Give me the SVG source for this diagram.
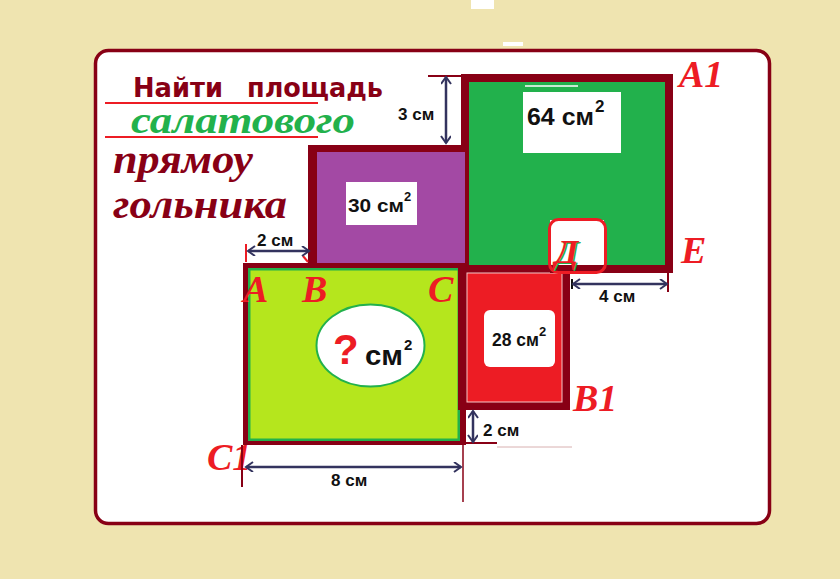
<svg xmlns="http://www.w3.org/2000/svg" width="840" height="579" viewBox="0 0 840 579">
<defs>
<style>
.dr{fill:#880015}
.lbl{font-family:"Liberation Serif","DejaVu Serif",serif;font-style:italic;font-weight:bold;fill:#ED1C24;font-size:38px}
.num{font-family:"Liberation Sans","DejaVu Sans",sans-serif;font-weight:bold;fill:#111}
.dim{stroke:#33335E;stroke-width:2.5;fill:none}
.tick{stroke:#880015;stroke-width:2;fill:none}
.box{fill:#fff}
</style>
<marker id="ah" markerUnits="userSpaceOnUse" markerWidth="12" markerHeight="12" refX="8" refY="5" orient="auto-start-reverse">
<path d="M1,0 L8,5 L1,10" fill="none" stroke="#33335E" stroke-width="2"/>
</marker>
</defs>
<rect width="840" height="579" fill="#EFE4B0"/>
<rect x="471" y="0" width="23" height="9" fill="#fff"/>
<rect x="503" y="42" width="20" height="4" fill="#fff"/>
<rect x="95.5" y="50.5" width="674" height="473" rx="13" fill="#fff" stroke="#880015" stroke-width="3.5"/>

<g id="title">
<text x="133" y="97" font-family="DejaVu Sans,sans-serif" font-weight="bold" font-size="26" fill="#880015" textLength="90" lengthAdjust="spacingAndGlyphs">Найти</text>
<text x="247" y="97" font-family="DejaVu Sans,sans-serif" font-weight="bold" font-size="26" fill="#880015" textLength="136" lengthAdjust="spacingAndGlyphs">площадь</text>
<line x1="105" y1="103" x2="318" y2="103" stroke="#ED1C24" stroke-width="2"/>
<text x="131" y="133" font-family="Liberation Serif,serif" font-style="italic" font-weight="bold" font-size="37" fill="#22B14C" textLength="224" lengthAdjust="spacingAndGlyphs">салатового</text>
<line x1="105" y1="137" x2="318" y2="137" stroke="#ED1C24" stroke-width="2"/>
<text x="113" y="173" font-family="Liberation Serif,serif" font-style="italic" font-weight="bold" font-size="40" fill="#880015" textLength="140" lengthAdjust="spacingAndGlyphs">прямоу</text>
<text x="113" y="218" font-family="Liberation Serif,serif" font-style="italic" font-weight="bold" font-size="40" fill="#880015" textLength="174" lengthAdjust="spacingAndGlyphs">гольника</text>
</g>

<g id="green-square">
<rect class="dr" x="461" y="74" width="212" height="199"/>
<rect x="469" y="82" width="196" height="183" fill="#22B14C"/>
<line x1="525" y1="86" x2="578" y2="86" stroke="#fff" stroke-width="1.5"/>
<rect class="box" x="523" y="92" width="98" height="61"/>
<text class="num" x="527" y="125" font-size="24" textLength="67" lengthAdjust="spacingAndGlyphs">64 см</text>
<text class="num" x="595" y="112" font-size="17">2</text>
</g>

<g id="purple-rect">
<rect class="dr" x="308" y="145" width="158" height="120"/>
<rect x="317" y="152" width="148" height="113" fill="#A349A4"/>
<rect class="box" x="346" y="182" width="71" height="43"/>
<text class="num" x="348" y="212" font-size="18" textLength="56" lengthAdjust="spacingAndGlyphs">30 см</text>
<text class="num" x="404" y="201" font-size="13">2</text>
</g>

<g id="lime-square">
<rect class="dr" x="243" y="263" width="223" height="182"/>
<rect x="248" y="268" width="212" height="173" fill="#22B14C"/>
<rect x="250.5" y="270.5" width="207" height="168" fill="#B5E61D"/>
<ellipse cx="370.5" cy="345.5" rx="54" ry="41" fill="#fff" stroke="#22B14C" stroke-width="2"/>
<text x="333" y="364" font-family="Liberation Sans,sans-serif" font-weight="bold" font-size="42" fill="#ED1C24">?</text>
<text class="num" x="365" y="365" font-size="28" textLength="38" lengthAdjust="spacingAndGlyphs">см</text>
<text class="num" x="404" y="350" font-size="15">2</text>
</g>

<g id="red-rect">
<rect class="dr" x="458" y="265" width="112" height="145"/>
<rect x="467" y="273" width="95" height="129" fill="#ED1C24" stroke="#F4C8C8" stroke-width="1"/>
<rect class="box" x="484" y="310" width="71" height="57" rx="6"/>
<text class="num" x="492" y="346" font-size="18" textLength="47" lengthAdjust="spacingAndGlyphs">28 см</text>
<text class="num" x="539" y="336" font-size="13">2</text>
</g>

<g id="d-mark">
<rect class="box" x="550" y="220" width="54" height="45"/>
<rect class="dr" x="550" y="265" width="54" height="8"/>
<rect x="549.5" y="219.5" width="56" height="53" rx="9" fill="none" stroke="#ED1C24" stroke-width="3"/>
<text x="556.5" y="264" font-family="Liberation Serif,serif" font-style="italic" font-weight="bold" font-size="34" fill="#22B14C">Д</text>
<text x="555" y="263" font-family="Liberation Serif,serif" font-style="italic" font-weight="bold" font-size="34" fill="#ED1C24">Д</text>
</g>

<g id="labels">
<text class="lbl" x="679" y="87">A1</text>
<text class="lbl" x="681" y="263">E</text>
<text class="lbl" x="243" y="302">A</text>
<text class="lbl" x="302" y="302">B</text>
<text class="lbl" x="428" y="302">C</text>
<text class="lbl" x="573" y="411">B1</text>
<text class="lbl" x="207" y="470">C1</text>
</g>

<g id="connectors">
<line class="tick" x1="428" y1="76" x2="461" y2="76"/>
<line class="dim" x1="446" y1="77" x2="446" y2="143" marker-start="url(#ah)" marker-end="url(#ah)"/>
<text class="num" x="398" y="120" font-size="17">3 см</text>

<line x1="246" y1="244" x2="246" y2="262" stroke="#ED1C24" stroke-width="2"/>
<line x1="303" y1="256" x2="308" y2="262" stroke="#ED1C24" stroke-width="2"/>
<line class="dim" x1="248" y1="251" x2="309" y2="251" marker-start="url(#ah)" marker-end="url(#ah)"/>
<text class="num" x="257" y="246" font-size="17">2 см</text>

<line x1="572" y1="279" x2="572" y2="289" stroke="#111" stroke-width="2"/>
<line class="tick" x1="668" y1="270" x2="668" y2="292"/>
<line class="dim" x1="573" y1="284" x2="667" y2="284" marker-start="url(#ah)" marker-end="url(#ah)"/>
<text class="num" x="599" y="302" font-size="17">4 см</text>

<line class="tick" x1="466" y1="443" x2="497" y2="443"/>
<line x1="497" y1="447" x2="572" y2="447" stroke="#D8B0B0" stroke-width="1"/>
<line class="dim" x1="473" y1="411" x2="473" y2="442" marker-start="url(#ah)" marker-end="url(#ah)"/>
<text class="num" x="483" y="436" font-size="17">2 см</text>

<line class="tick" x1="242" y1="445" x2="242" y2="487"/>
<line x1="463" y1="445" x2="463" y2="502" stroke="#880015" stroke-width="1.5"/>
<line class="dim" x1="246" y1="467" x2="461" y2="467" marker-start="url(#ah)" marker-end="url(#ah)"/>
<text class="num" x="331" y="486" font-size="17">8 см</text>
</g>
</svg>
